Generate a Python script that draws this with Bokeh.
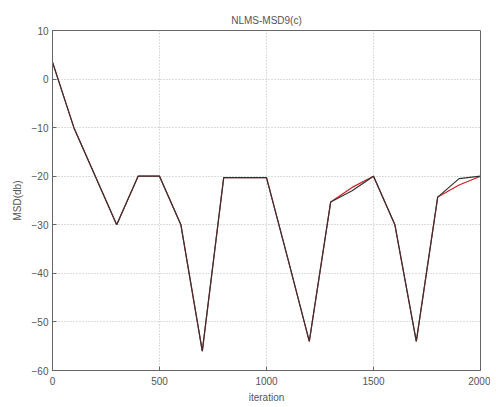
from bokeh.plotting import figure
from bokeh.models import Range1d, FixedTicker
from bokeh.embed import file_html
from bokeh.resources import INLINE

iterations = [0, 100, 200, 300, 400, 500, 600, 700, 800, 900, 1000,
              1100, 1200, 1300, 1400, 1500, 1600, 1700, 1800, 1900, 2000]
msd_black = [3.5, -10, -20, -30, -20, -20, -30, -56, -20.3, -20.3, -20.3,
             -37, -54, -25.3, -23, -20, -30, -54, -24.3, -20.5, -20]
msd_red = [3.5, -10, -20, -30, -20, -20, -30, -56, -20.3, -20.3, -20.3,
           -37, -54, -25.3, -22.3, -20, -30, -54, -24.3, -21.8, -20]
x_ticks = [0, 500, 1000, 1500, 2000]
y_ticks = [-60, -50, -40, -30, -20, -10, 0, 10]

FONT = "Liberation Sans"
TXT = "#555555"

p = figure(width=490, height=405, output_backend="svg", toolbar_location=None,
           x_range=Range1d(0, 2000), y_range=Range1d(-60, 10),
           min_border_left=52, min_border_right=10, min_border_top=30,
           min_border_bottom=34, title="NLMS-MSD9(c)")
p.title.align = "center"
p.title.text_font = FONT
p.title.text_font_size = "10px"
p.title.text_font_style = "normal"
p.title.text_color = TXT

p.outline_line_color = "#666666"
p.outline_line_width = 1

for ax in (p.xaxis[0], p.yaxis[0]):
    ax.major_tick_in = 4
    ax.major_tick_out = 0
    ax.minor_tick_in = 0
    ax.minor_tick_out = 0
    ax.axis_line_color = "#666666"
    ax.major_tick_line_color = "#666666"
    ax.major_label_text_font = FONT
    ax.major_label_text_font_size = "10px"
    ax.major_label_text_color = TXT
    ax.axis_label_text_font = FONT
    ax.axis_label_text_font_size = "10px"
    ax.axis_label_text_font_style = "normal"
    ax.axis_label_text_color = TXT

p.xaxis[0].ticker = FixedTicker(ticks=x_ticks)
p.yaxis[0].ticker = FixedTicker(ticks=y_ticks)
p.xaxis[0].axis_label = "iteration"
p.yaxis[0].axis_label = "MSD(db)"
p.xaxis[0].axis_label_standoff = 4
p.yaxis[0].axis_label_standoff = 6
p.xaxis[0].major_label_standoff = 6
p.yaxis[0].major_label_standoff = 4

p.xgrid.ticker = FixedTicker(ticks=x_ticks)
p.ygrid.ticker = FixedTicker(ticks=y_ticks)
p.grid.grid_line_color = "#bbbbbb"
p.grid.grid_line_dash = "1 2"
p.grid.grid_line_width = 1

p.line(iterations, msd_red, line_color="#cc2222", line_width=1.2)
p.line(iterations, msd_black, line_color="#333333", line_width=1.2)

open("out.html", "w").write(file_html(p, INLINE))
